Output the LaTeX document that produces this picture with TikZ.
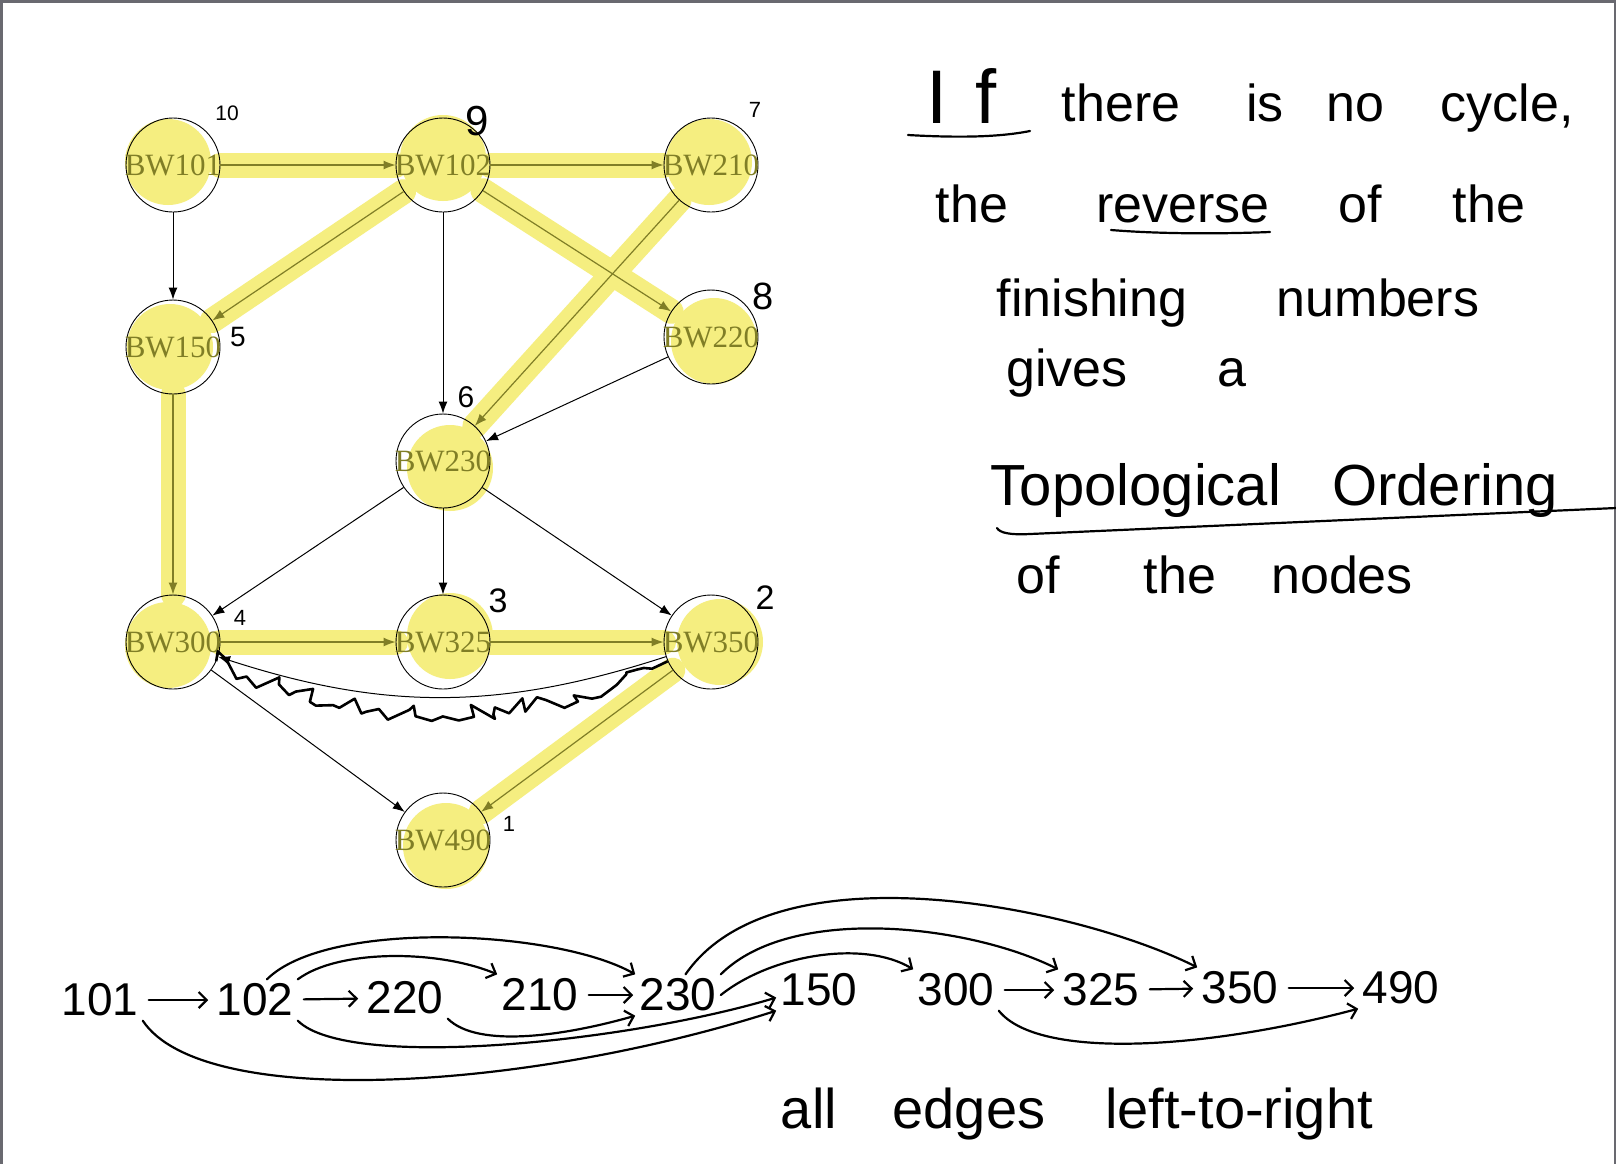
\documentclass[tikz,border=0pt]{standalone}
\usepackage{fontspec}
\setmainfont{Liberation Serif}
\newfontfamily\handfont{Liberation Sans}
\newfontfamily\gfont{Liberation Serif}
\usetikzlibrary{arrows.meta,backgrounds,decorations.pathmorphing}
\definecolor{hl}{RGB}{245,238,128}
\definecolor{olv}{RGB}{128,126,38}
\definecolor{framec}{RGB}{105,105,112}
\newcommand\hw[1]{\handfont\fontsize{#1}{#1}\selectfont}
\begin{document}
\begin{tikzpicture}[x=0.5pt,y=-0.5pt,
  gnode/.style={circle,draw=black,line width=0.45pt,minimum size=47pt,inner sep=0pt,text=olv,font=\gfont\fontsize{15.5}{16}\selectfont},
  num/.style={inner sep=0pt,font=\hw{#1}},
  word/.style={anchor=base,inner sep=0pt,font=\hw{#1}},
  digit/.style={inner sep=2pt,font=\hw{23}},
  bedge/.style={draw=black,line width=0.5pt,-{Latex[length=6pt,width=4.5pt]}},
  oedge/.style={draw=olv,line width=0.6pt,-{Latex[length=6pt,width=4.5pt]}},
  band/.style={draw=hl,line width=12.5pt,line cap=round},
  pen/.style={draw=black,line width=1.1pt,line cap=round,line join=round},
  penarrow/.style={pen,-{Straight Barb[length=4pt,width=8pt]}},
  scribble/.style={draw=black,line width=1.3pt,line join=round,decorate,decoration={random steps,segment length=5pt,amplitude=5.5pt}}
]
\useasboundingbox (0,0) rectangle (1616,1164);
\pgfmathsetseed{11}

% graph nodes
\node[gnode] (n101) at (173,165) {\makebox[0pt]{BW101}};
\node[gnode] (n102) at (443,165) {\makebox[0pt]{BW102}};
\node[gnode] (n210) at (711,165) {\makebox[0pt]{BW210}};
\node[gnode] (n150) at (173,347) {\makebox[0pt]{BW150}};
\node[gnode] (n220) at (711,337) {\makebox[0pt]{BW220}};
\node[gnode] (n230) at (443,461) {\makebox[0pt]{BW230}};
\node[gnode] (n300) at (173,642) {\makebox[0pt]{BW300}};
\node[gnode] (n325) at (443,642) {\makebox[0pt]{BW325}};
\node[gnode] (n350) at (711,642) {\makebox[0pt]{BW350}};
\node[gnode] (n490) at (443,840) {\makebox[0pt]{BW490}};

\begin{pgfonlayer}{background}
  \fill[white] (0,0) rectangle (1616,1164);
  \foreach \bx/\by in {168/162,443/158,709/162,170/347,714/341,450/468,168/645,450/636,720/642,446/846}
    \fill[hl] (\bx,\by) circle (43);
  \draw[band] (n101) -- (n102);
  \draw[band] (n102) -- (n210);
  \draw[band] (n102) -- (n150);
  \draw[band] (n102) -- (n220);
  \draw[band] (n210) -- (n230);
  \draw[band] (n150) -- (n300);
  \draw[band] (n300) -- (n325);
  \draw[band] (n325) -- (n350);
  \draw[band] (n350) -- (n490);
\end{pgfonlayer}

% frame
\draw[framec,line width=1.5pt] (1,1164) -- (1,1) -- (1615,1) -- (1615,1164);

% black edges
\draw[bedge] (n101) -- (n150);
\draw[bedge] (n102) -- (n230);
\draw[bedge] (n220) -- (n230);
\draw[bedge] (n230) -- (n300);
\draw[bedge] (n230) -- (n325);
\draw[bedge] (n230) -- (n350);
\draw[bedge] (n300) -- (n490);
\draw[bedge] (n350) to[bend left=18] (n300);
\path[scribble] (n350) to[bend left=24] (n300);

% highlighted edges
\draw[oedge] (n101) -- (n102);
\draw[oedge] (n102) -- (n210);
\draw[oedge] (n102) -- (n150);
\draw[oedge] (n102) -- (n220);
\draw[oedge] (n210) -- (n230);
\draw[oedge] (n150) -- (n300);
\draw[oedge] (n300) -- (n325);
\draw[oedge] (n325) -- (n350);
\draw[oedge] (n350) -- (n490);

% finishing numbers
\node[num=10.5] (f101) at (227,113) {10};
\node[num=21] (f102) at (477,121) {9};
\node[num=11] (f210) at (755,110) {7};
\node[num=14] (f150) at (238,337) {5};
\node[num=19] (f220) at (763,296) {8};
\node[num=15] (f230) at (466,397) {6};
\node[num=11] (f300) at (240,618) {4};
\node[num=17] (f325) at (498,601) {3};
\node[num=17] (f350) at (765,598) {2};
\node[num=11] (f490) at (509,824) {1};

% handwritten statement
\node[word=38] (wIf) at (962,123) {I\kern14pt f};
\node[word=26] (w1b) at (1121,121) {there};
\node[word=26] (w1c) at (1265,121) {is};
\node[word=26] (w1d) at (1355,121) {no};
\node[word=26] (w1e) at (1507,121) {cycle,};
\node[word=26] (w2a) at (972,222) {the};
\node[word=26] (w2b) at (1183,222) {reverse};
\node[word=26] (w2c) at (1360,222) {of};
\node[word=26] (w2d) at (1489,222) {the};
\node[word=26] (w3a) at (1092,316) {finishing};
\node[word=26] (w3b) at (1378,316) {numbers};
\node[word=26] (w4a) at (1067,386) {gives};
\node[word=26] (w4b) at (1232,386) {a};
\node[word=29] (w5a) at (1136,505) {Topological};
\node[word=29] (w5b) at (1445,505) {Ordering};
\node[word=26] (w6a) at (1038,593) {of};
\node[word=26] (w6b) at (1180,593) {the};
\node[word=26] (w6c) at (1342,593) {nodes};
\draw[pen] (908,135) .. controls (960,138) and (1000,137) .. (1030,131);
\draw[pen] (1111,230) .. controls (1160,234) and (1220,234) .. (1270,232);
\draw[pen] (997,528) .. controls (1000,533) and (1010,535) .. (1030,534) -- (1616,508);

% ordering at the bottom
\node[digit] (b101) at (100,1000) {101};
\node[digit] (b102) at (255,1000) {102};
\node[digit] (b220) at (405,998) {220};
\node[digit] (b210) at (540,995) {210};
\node[digit] (b230) at (678,995) {230};
\node[digit] (b150) at (819,990) {150};
\node[digit] (b300) at (956,990) {300};
\node[digit] (b325) at (1101,990) {325};
\node[digit] (b350) at (1240,988) {350};
\node[digit] (b490) at (1401,988) {490};

\draw[penarrow,shorten <=3pt,shorten >=2pt] (b101) -- (b102);
\draw[penarrow,shorten <=3pt,shorten >=2pt] (b102) -- (b220);
\draw[penarrow,shorten <=3pt,shorten >=1pt] (b210) -- (b230);
\draw[penarrow,shorten <=3pt,shorten >=2pt] (b300) -- (b325);
\draw[penarrow,shorten <=3pt,shorten >=2pt] (b325) -- (b350);
\draw[penarrow,shorten <=3pt,shorten >=2pt] (b350) -- (b490);

\draw[penarrow] (b102.north east) .. controls +(40,-30) and +(-60,-25) .. (b210.north west);
\draw[penarrow] (b102.60) .. controls +(60,-60) and +(-80,-45) .. (b230.north west);
\draw[penarrow] (b220.south east) .. controls +(30,30) and +(-70,20) .. (b230.south west);
\draw[penarrow] (b102.south east) .. controls +(50,50) and +(-150,45) .. (b150.190);
\draw[penarrow] (b101.south east) .. controls +(60,90) and +(-250,80) .. (b150.south west);
\draw[penarrow] (b230.east) .. controls +(50,-40) and +(-50,-30) .. (b300.north west);
\draw[penarrow] (b230.north east) .. controls +(70,-70) and +(-90,-45) .. (b325.north west);
\draw[penarrow] (b230.70) .. controls +(90,-130) and +(-120,-60) .. (b350.north west);
\draw[penarrow] (b300.south east) .. controls +(40,50) and +(-150,40) .. (b490.south west);

\node[word=28] (w7a) at (809,1128) {all};
\node[word=28] (w7b) at (969,1128) {edges};
\node[word=28] (w7c) at (1239,1128) {left-to-right};
\end{tikzpicture}
\end{document}
